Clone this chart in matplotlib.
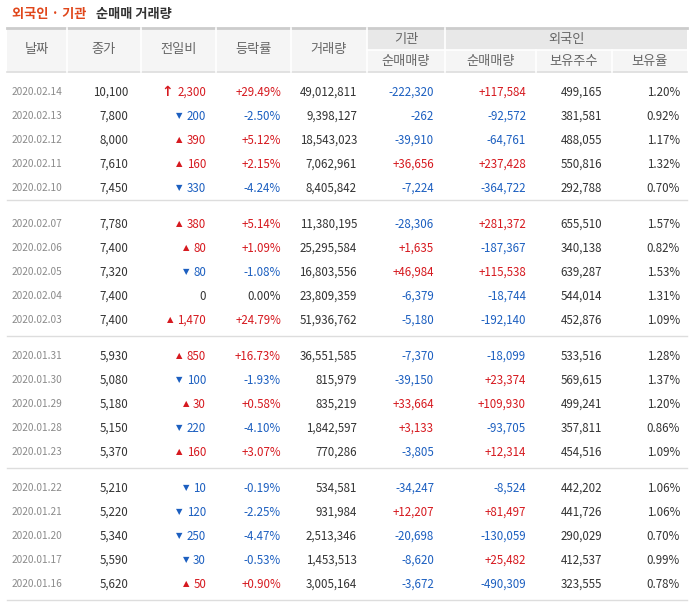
import matplotlib.pyplot as plt
from matplotlib.patches import Rectangle

plt.rcParams['font.family'] = ['Noto Sans CJK JP', 'Noto Sans CJK KR', 'DejaVu Sans']

dates = ['2020.02.14', '2020.02.13', '2020.02.12', '2020.02.11', '2020.02.10',
         '2020.02.07', '2020.02.06', '2020.02.05', '2020.02.04', '2020.02.03',
         '2020.01.31', '2020.01.30', '2020.01.29', '2020.01.28', '2020.01.23',
         '2020.01.22', '2020.01.21', '2020.01.20', '2020.01.17', '2020.01.16']
close = [10100, 7800, 8000, 7610, 7450, 7780, 7400, 7320, 7400, 7400,
         5930, 5080, 5180, 5150, 5370, 5210, 5220, 5340, 5590, 5620]
change = [2300, -200, 390, 160, -330, 380, 80, -80, 0, 1470,
          850, -100, 30, -220, 160, -10, -120, -250, -30, 50]
upper_limit = [True] + [False] * 19
pct = [29.49, -2.50, 5.12, 2.15, -4.24, 5.14, 1.09, -1.08, 0.00, 24.79,
       16.73, -1.93, 0.58, -4.10, 3.07, -0.19, -2.25, -4.47, -0.53, 0.90]
volume = [49012811, 9398127, 18543023, 7062961, 8405842, 11380195, 25295584, 16803556,
          23809359, 51936762, 36551585, 815979, 835219, 1842597, 770286, 534581,
          931984, 2513346, 1453513, 3005164]
inst_net = [-222320, -262, -39910, 36656, -7224, -28306, 1635, 46984, -6379, -5180,
            -7370, -39150, 33664, 3133, -3805, -34247, 12207, -20698, -8620, -3672]
frgn_net = [117584, -92572, -64761, 237428, -364722, 281372, -187367, 115538, -18744, -192140,
            -18099, 23374, 109930, -93705, 12314, -8524, 81497, -130059, 25482, -490309]
frgn_hold = [499165, 381581, 488055, 550816, 292788, 655510, 340138, 639287, 544014, 452876,
             533516, 569615, 499241, 357811, 454516, 442202, 441726, 290029, 412537, 323555]
frgn_ratio = [1.20, 0.92, 1.17, 1.32, 0.70, 1.57, 0.82, 1.53, 1.31, 1.09,
              1.28, 1.37, 1.20, 0.86, 1.09, 1.06, 1.06, 0.70, 0.99, 0.78]

RED = '#d6191f'
BLUE = '#1c5fc0'
DARK = '#333333'

fig = plt.figure(figsize=(6.93, 6.07), dpi=100)
ax = fig.add_axes([0, 0, 1, 1])
ax.set_xlim(0, 693)
ax.set_ylim(607, 0)
ax.axis('off')
renderer = fig.canvas.get_renderer()

# title
ax.text(12, 14, '외국인 · 기관', color='#e0461a', fontsize=9.5, fontweight='bold', va='center')
ax.text(96, 14, '순매매 거래량', color=DARK, fontsize=9.5, fontweight='bold', va='center')

# header
bounds = [7, 67, 141, 216, 291, 367, 445, 536, 612, 687]
ax.add_patch(Rectangle((7, 28), 680, 44, color='#f5f5f5', lw=0))
ax.add_patch(Rectangle((367, 28), 320, 22, color='#e8e8e8', lw=0))
ax.plot([7, 687], [28, 28], color='#cccccc', lw=2)
ax.plot([7, 687], [72, 72], color='#dddddd', lw=1.2)
for b in bounds[1:-1]:
    y0 = 50 if b in (536, 612) else 28
    ax.plot([b, b], [y0, 72], color='white', lw=1.2)
ax.plot([367, 687], [50, 50], color='white', lw=1.2)
hfs = 9.5
for i, lab in enumerate(['날짜', '종가', '전일비', '등락률', '거래량']):
    ax.text((bounds[i] + bounds[i + 1]) / 2, 50, lab, ha='center', va='center', color='#666', fontsize=hfs)
ax.text(406, 39, '기관', ha='center', va='center', color='#666', fontsize=hfs)
ax.text(566, 39, '외국인', ha='center', va='center', color='#666', fontsize=hfs)
for i, lab in enumerate(['순매매량', '순매매량', '보유주수', '보유율']):
    ax.text((bounds[i + 5] + bounds[i + 6]) / 2, 61, lab, ha='center', va='center', color='#666', fontsize=hfs)

def sign_color(v):
    return RED if v > 0 else (BLUE if v < 0 else DARK)

fs = 8.3
for i in range(len(dates)):
    g, r = divmod(i, 5)
    y = 92 + g * 132 + r * 24
    ax.text(12, y, dates[i], va='center', color='#8a8a8a', fontsize=7.3)
    ax.text(128, y, f'{close[i]:,}', ha='right', va='center', color=DARK, fontsize=fs)
    c = change[i]
    t = ax.text(206, y, f'{abs(c):,}', ha='right', va='center', color=sign_color(c), fontsize=fs)
    if c != 0:
        bb = t.get_window_extent(renderer)
        xl = bb.x0 - 4
        if upper_limit[i]:
            ax.text(xl, y, '↑', ha='right', va='center', color=RED, fontsize=10,
                    fontweight='bold', family='DejaVu Sans')
        else:
            ax.text(xl, y, '▲' if c > 0 else '▼', ha='right', va='center',
                    color=sign_color(c), fontsize=6, family='DejaVu Sans')
    p = pct[i]
    ps = f'{p:+.2f}%' if p != 0 else '0.00%'
    ax.text(281, y, ps, ha='right', va='center', color=sign_color(p), fontsize=fs)
    ax.text(357, y, f'{volume[i]:,}', ha='right', va='center', color=DARK, fontsize=fs)
    v = inst_net[i]
    ax.text(434, y, f'{v:+,}' if v > 0 else f'{v:,}', ha='right', va='center', color=sign_color(v), fontsize=fs)
    v = frgn_net[i]
    ax.text(526, y, f'{v:+,}' if v > 0 else f'{v:,}', ha='right', va='center', color=sign_color(v), fontsize=fs)
    ax.text(602, y, f'{frgn_hold[i]:,}', ha='right', va='center', color=DARK, fontsize=fs)
    ax.text(680, y, f'{frgn_ratio[i]:.2f}%', ha='right', va='center', color=DARK, fontsize=fs)

for yl in [200, 336, 468, 600]:
    ax.plot([7, 687], [yl, yl], color='#dddddd', lw=1)

fig.savefig('out.png', dpi=100)
